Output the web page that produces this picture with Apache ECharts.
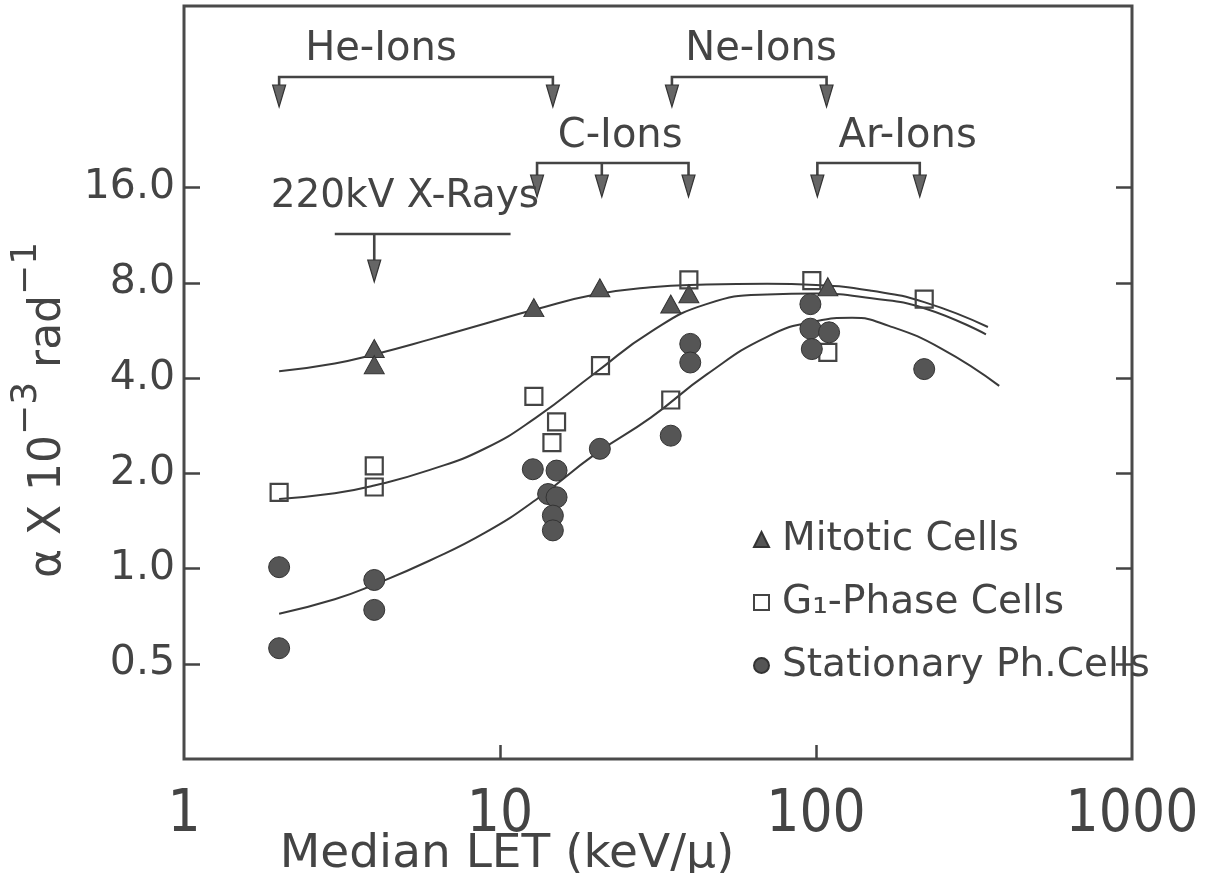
<!DOCTYPE html>
<html><head><meta charset="utf-8">
<script src="https://cdn.jsdelivr.net/npm/echarts@6/dist/echarts.min.js"></script>
<style>html,body{margin:0;padding:0;background:#fff}#c{width:1212px;height:873px}</style>
</head><body><div id="c"></div>
<script>
// ---------------- data ----------------
const seriesNames = ['Mitotic Cells', 'G\u2081-Phase Cells', 'Stationary Ph.Cells'];
// measured points [median LET (keV/µ), alpha x 10^-3 rad^-1]
const mitoticPts = [[4.0,4.96],[4.0,4.41],[12.8,6.68],[20.7,7.72],[34.7,6.86],[39.6,7.39],[109,7.78]];
const g1Pts = [[2.0,1.74],[4.0,2.11],[4.0,1.81],[12.8,3.50],[15.1,2.91],[14.6,2.50],[20.8,4.38],[34.7,3.41],[39.6,8.17],[97,8.13],[109,4.82],[220,7.11]];
const statPts = [[2.0,1.01],[2.0,0.56],[4.0,0.92],[4.0,0.74],[12.7,2.06],[15.1,2.04],[14.2,1.72],[15.1,1.68],[14.7,1.47],[14.7,1.32],[20.7,2.39],[34.7,2.63],[40,5.13],[40,4.48],[96,6.85],[96,5.73],[110,5.58],[97,4.94],[220,4.27]];
// fitted curves (sampled along the drawn lines)
const mitoticCurve = [[2.0,4.2],[3.0,4.45],[4.0,4.75],[6.0,5.3],[9.0,5.95],[13,6.6],[20,7.35],[30,7.75],[45,7.9],[70,7.95],[100,7.88],[150,7.55],[220,6.95],[350,5.8]];
const g1Curve = [[2.0,1.66],[3.0,1.73],[4.0,1.83],[6.0,2.05],[9.0,2.4],[13,3.0],[20,4.15],[30,5.6],[45,6.85],[70,7.35],[100,7.4],[150,7.15],[220,6.65],[345,5.5]];
const statCurve = [[2.0,0.72],[3.0,0.8],[4.0,0.89],[6.0,1.06],[9.0,1.3],[13,1.65],[20,2.3],[30,3.0],[45,4.1],[70,5.4],[100,6.05],[130,6.2],[170,5.85],[250,4.95],[380,3.78]];
// axes
const xTickLabels = [1, 10, 100, 1000];
const xTickMarks = [10, 100];
const yTickLabels = [0.5, 1, 2, 4, 8, 16];
// radiation annotations (LET values the arrows point to)
const ionNames = ['He-Ions', 'C-Ions', 'Ne-Ions', 'Ar-Ions'];
const ionArrows = [[2.0, 14.7], [13.1, 21, 39.5], [35, 108], [101, 213]];
const ionLabelAt = [4.2, 24, 67, 195];
const xrayName = '220kV X-Rays';
const xrayArrow = 4.0;
const xrayBand = [3.0, 10.8];
const xrayLabelAt = 5.0;

// ---------------- layout / style ----------------
const FONT = "'DejaVu Sans', sans-serif";
const INK = '#444';
const LINE = '#3a3a3a';
const ionRow = [0, 1, 0, 1];
const ROWS = [ {label: 44, bar: 71, tip: 101}, {label: 131, bar: 157, tip: 191}, {label: 191, bar: 228, tip: 276} ];
const HEAD_LEN = 22, HEAD_W = 13;

function arrowHead(x, tip) {
  return { type: 'polygon', shape: { points: [[x - HEAD_W/2, tip - HEAD_LEN], [x + HEAD_W/2, tip - HEAD_LEN], [x, tip]] },
           style: { fill: '#666', stroke: '#333', lineWidth: 1.2 } };
}
function renderAnnot(params, api) {
  const idx = api.value(2);
  const top = params.coordSys.y;
  const children = [];
  const lineStyle = { stroke: '#444', lineWidth: 2.6, fill: null };
  if (idx < ionNames.length) {
    const row = ROWS[ionRow[idx]];
    const xs = ionArrows[idx].map(v => api.coord([v, 1])[0]);
    const bar = top + row.bar, tip = top + row.tip;
    const x0 = xs[0], xn = xs[xs.length - 1];
    children.push({ type: 'polyline', shape: { points: [[x0, tip - HEAD_LEN], [x0, bar], [xn, bar], [xn, tip - HEAD_LEN]] }, style: lineStyle });
    for (let k = 1; k < xs.length - 1; k++) {
      children.push({ type: 'line', shape: { x1: xs[k], y1: bar, x2: xs[k], y2: tip - HEAD_LEN }, style: lineStyle });
    }
    xs.forEach(x => children.push(arrowHead(x, tip)));
    children.push({ type: 'text', style: { text: ionNames[idx], x: api.coord([ionLabelAt[idx], 1])[0], y: top + row.label,
      align: 'center', verticalAlign: 'middle', font: '40px ' + FONT, fill: INK } });
  } else {
    const row = ROWS[2];
    const bar = top + row.bar, tip = top + row.tip;
    const xa = api.coord([xrayArrow, 1])[0];
    children.push({ type: 'line', shape: { x1: api.coord([xrayBand[0], 1])[0], y1: bar, x2: api.coord([xrayBand[1], 1])[0], y2: bar }, style: lineStyle });
    children.push({ type: 'line', shape: { x1: xa, y1: bar, x2: xa, y2: tip - HEAD_LEN }, style: lineStyle });
    children.push(arrowHead(xa, tip));
    children.push({ type: 'text', style: { text: xrayName, x: api.coord([xrayLabelAt, 1])[0], y: top + row.label,
      align: 'center', verticalAlign: 'middle', font: '39px ' + FONT, fill: INK } });
  }
  return { type: 'group', children };
}

const annotData = ionNames.map((n, i) => [ionArrows[i][0], 1, i]).concat([[xrayArrow, 1, ionNames.length]]);

const yAxisBase = {
  type: 'log', logBase: 2, min: 0.25, max: 60,
  axisLine: { show: false }, splitLine: { show: false }, minorTick: { show: false },
  axisTick: { show: true, inside: true, length: 16, lineStyle: { color: '#444', width: 2.5 }, customValues: yTickLabels }
};

const chart = echarts.init(document.getElementById('c'), null, { renderer: 'canvas' });
chart.setOption({
  backgroundColor: '#fff',
  animation: false,
  grid: { left: 184, right: 80, top: 6, bottom: 114, show: true, borderColor: '#4a4a4a', borderWidth: 3, containLabel: false },
  xAxis: {
    type: 'log', logBase: 10, min: 1, max: 1000,
    axisLine: { show: false }, splitLine: { show: false }, minorTick: { show: false },
    axisTick: { show: true, inside: true, length: 14, lineStyle: { color: '#444', width: 2.5 }, customValues: xTickMarks },
    axisLabel: { customValues: xTickLabels, formatter: v => String(Math.round(v)), fontSize: 58,
      fontFamily: "'Liberation Sans Narrow', 'DejaVu Sans Condensed', sans-serif", color: INK, margin: 28 }
  },
  yAxis: [
    Object.assign({}, yAxisBase, { position: 'left',
      axisLabel: { customValues: yTickLabels, formatter: v => Number(v).toFixed(1), fontSize: 41, fontFamily: FONT, color: INK, margin: 9 } }),
    Object.assign({}, yAxisBase, { position: 'right', axisLabel: { show: false } })
  ],
  legend: {
    data: seriesNames, orient: 'vertical', left: 748, top: 515, itemWidth: 15, itemHeight: 15, itemGap: 24,
    selectedMode: false, textStyle: { fontSize: 39, fontFamily: FONT, color: INK, padding: [0, 0, 0, 8] }
  },
  graphic: [
    { type: 'text', x: 40, y: 410, rotation: Math.PI / 2,
      style: { text: '{b|\u03b1 X 10}{s|\u22123}{b| rad}{s|\u22121}', align: 'center', verticalAlign: 'middle',
        rich: { b: { fontSize: 44, fontFamily: FONT, fill: INK, lineHeight: 62, verticalAlign: 'bottom' },
                s: { fontSize: 36, fontFamily: FONT, fill: INK, lineHeight: 62, verticalAlign: 'top' } } } },
    { type: 'text', x: 507, y: 855,
      style: { text: 'Median LET (keV/\u03bc)', align: 'center', verticalAlign: 'middle', font: '47px ' + FONT, fill: INK } }
  ],
  series: [
    { type: 'line', data: mitoticCurve, smooth: 0.5, showSymbol: false, lineStyle: { color: LINE, width: 2 }, silent: true, z: 2 },
    { type: 'line', data: g1Curve, smooth: 0.5, showSymbol: false, lineStyle: { color: LINE, width: 2 }, silent: true, z: 2 },
    { type: 'line', data: statCurve, smooth: 0.5, showSymbol: false, lineStyle: { color: LINE, width: 2 }, silent: true, z: 2 },
    { name: seriesNames[0], type: 'scatter', data: mitoticPts, symbol: 'triangle', symbolSize: [20, 18],
      itemStyle: { color: '#555', borderColor: '#333', borderWidth: 1, opacity: 1 }, z: 3 },
    { name: seriesNames[1], type: 'scatter', data: g1Pts, symbol: 'rect', symbolSize: 17,
      itemStyle: { color: 'rgba(255,255,255,0)', borderColor: '#444', borderWidth: 2.2, opacity: 1 }, z: 3 },
    { name: seriesNames[2], type: 'scatter', data: statPts, symbol: 'circle', symbolSize: 21,
      itemStyle: { color: '#555', borderColor: '#333', borderWidth: 1, opacity: 1 }, z: 3 },
    { type: 'custom', data: annotData, encode: { x: 0, y: 1 }, renderItem: renderAnnot, silent: true, clip: false, z: 4 }
  ]
});
</script></body></html>
